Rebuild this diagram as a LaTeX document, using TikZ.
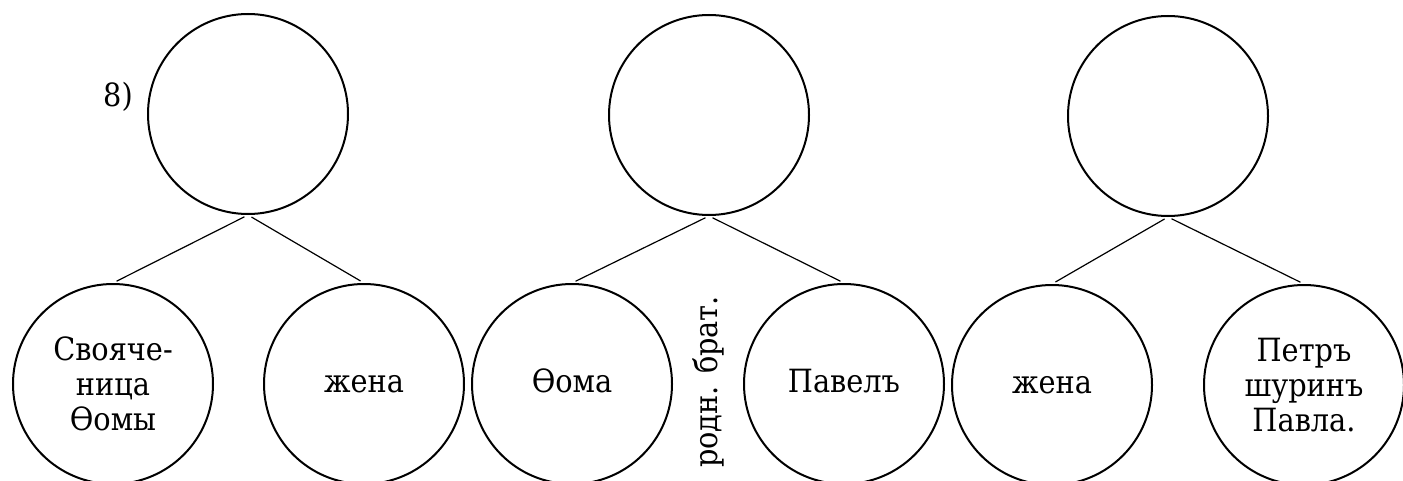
\documentclass[tikz,border=0pt]{standalone}
\usepackage{fontspec}
\setmainfont{DejaVu Serif Condensed}
\begin{document}
\begin{tikzpicture}[x=0.5pt,y=-0.5pt,
  person/.style={circle,draw,line width=1pt,minimum size=100pt,inner sep=0pt,
    align=center,font=\fontsize{16}{17.5}\selectfont},
  link/.style={line width=0.6pt,shorten <=2pt,shorten >=2pt},
  lbl/.style={font=\fontsize{16}{17.5}\selectfont,inner sep=0pt}]
\useasboundingbox (0,0) rectangle (1403,481);
% group 1
\node[person] (t1) at (248,114) {};
\node[person] (a1) at (113,384) {Свояче-\\ница\\Ѳомы};
\node[person] (a2) at (364,384) {\vphantom{Пу}жена};
\node[lbl] (n8) at (118,97) {8)};
\draw[link] (t1.south) -- (a1.north);
\draw[link] (t1.south) -- (a2.north);
% group 2
\node[person] (t2) at (709,115) {};
\node[person] (b1) at (572,384) {\vphantom{Пу}Ѳома};
\node[person] (b2) at (844,384) {\vphantom{Пу}Павелъ};
\node[lbl,rotate=90] (br) at (708,382) {родн. брат.};
\draw[link] (t2.south) -- (b1.north);
\draw[link] (t2.south) -- (b2.north);
% group 3
\node[person] (t3) at (1168,116) {};
\node[person] (c1) at (1052,385) {\vphantom{Пу}жена};
\node[person] (c2) at (1304,385) {Петръ\\шуринъ\\Павла.};
\draw[link] (t3.south) -- (c1.north);
\draw[link] (t3.south) -- (c2.north);
\end{tikzpicture}
\end{document}
